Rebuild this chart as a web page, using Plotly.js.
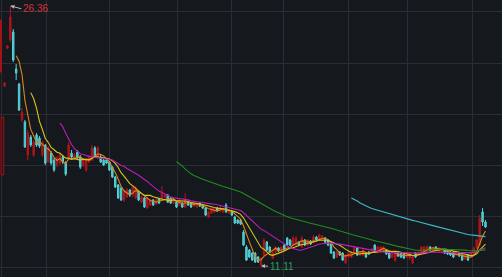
<!DOCTYPE html>
<html><head><meta charset="utf-8">
<script src="https://cdn.plot.ly/plotly-3.0.1.min.js"></script>
<style>html,body{margin:0;padding:0;background:#15181d;overflow:hidden}#c{width:502px;height:277px}</style>
</head><body><div id="c"></div>
<script>
const open = [21.66,23.89,24.36,24.82,22.66,21.78,19.67,19.55,17.62,18.67,
17.62,18.79,18.61,17.62,18.20,17.21,17.73,17.32,17.03,17.15,
17.50,17.15,17.44,17.73,17.44,17.79,17.50,17.03,16.74,17.21,
17.32,18.03,17.44,17.50,17.32,17.32,17.21,16.91,16.33,15.86,
15.68,14.98,15.16,15.57,15.27,15.10,15.45,14.86,15.10,14.51,
14.69,14.98,14.75,15.04,15.10,15.16,15.27,15.10,14.80,14.86,
14.69,14.80,14.57,14.86,14.80,14.63,14.57,14.80,14.69,14.51,
13.98,14.22,14.28,14.51,14.34,14.28,14.69,14.22,14.28,13.98,
13.81,13.81,13.10,12.23,12.05,11.87,11.87,11.64,11.17,11.76,
12.52,12.23,11.58,11.93,12.17,11.99,12.34,12.75,12.64,12.34,
12.34,12.52,12.23,12.64,12.34,12.58,12.52,12.81,12.64,12.69,
12.75,12.64,12.46,11.93,11.64,11.93,11.87,11.29,11.64,11.64,
11.93,12.17,11.76,11.76,11.87,11.93,11.93,12.34,11.93,11.93,
12.05,12.05,11.87,11.64,11.46,11.87,11.87,11.82,11.64,11.58,
11.29,11.87,11.76,11.87,11.93,11.93,12.23,11.99,12.23,11.93,
11.93,12.05,11.99,11.93,11.93,11.76,11.87,11.76,11.52,11.76,
11.70,11.87,12.17,12.34,14.28,13.69];
const high = [21.89,24.06,26.36,25.00,22.95,21.84,20.37,19.67,19.08,18.79,
18.50,18.91,18.73,18.44,18.26,18.14,17.85,17.44,17.56,17.79,
17.62,17.27,18.38,17.91,17.73,17.91,17.62,17.44,17.44,17.62,
18.20,18.14,18.14,17.62,17.38,17.38,17.27,16.97,16.39,15.92,
15.74,15.57,15.68,15.62,15.86,15.80,15.51,15.27,15.16,15.21,
15.04,15.04,15.10,15.10,15.80,15.39,15.33,15.16,15.04,14.92,
15.04,14.86,15.39,14.92,14.86,14.86,14.86,14.86,14.75,14.57,
14.34,14.57,14.57,14.57,14.63,14.51,14.80,14.45,14.34,14.04,
13.87,13.87,13.22,12.34,12.11,11.93,11.93,11.70,11.64,12.75,
12.58,12.28,12.05,12.28,12.23,12.28,12.40,12.81,12.69,12.87,
12.87,12.58,12.87,12.69,12.69,12.64,12.93,12.87,12.99,12.93,
12.81,12.69,12.52,11.99,11.99,11.99,11.93,11.82,11.93,11.99,
12.28,12.23,11.99,12.11,11.93,11.99,12.17,12.40,12.28,12.28,
12.28,12.11,11.93,11.93,11.93,11.93,11.93,11.87,11.93,11.93,
11.76,11.93,11.99,12.28,12.28,12.34,12.28,12.23,12.28,12.23,
12.17,12.11,12.05,11.99,11.99,11.99,11.93,11.82,11.76,11.82,
11.93,12.23,12.69,14.10,14.51,13.81];
const low = [21.60,23.83,24.24,23.07,22.01,20.20,19.55,18.03,17.32,18.09,
17.50,18.09,18.03,17.50,17.03,17.15,17.03,16.62,16.91,17.03,
17.09,16.39,17.32,17.38,17.32,17.32,16.80,16.91,16.62,17.15,
17.27,17.44,17.38,17.15,16.97,17.09,16.68,16.27,15.68,15.04,
14.92,14.86,15.10,15.16,15.16,15.04,14.92,14.80,14.51,14.45,
14.63,14.63,14.69,14.75,15.04,15.10,14.80,14.75,14.75,14.51,
14.63,14.51,14.51,14.63,14.51,14.57,14.51,14.57,14.45,14.04,
13.93,14.16,14.22,14.28,14.28,14.22,14.22,14.16,14.04,13.57,
13.57,13.52,12.28,11.41,11.58,11.41,11.29,11.29,11.11,11.70,
11.99,11.87,11.52,11.87,11.93,11.93,11.99,12.28,12.28,12.28,
12.28,12.28,12.17,12.28,12.28,12.34,12.46,12.58,12.58,12.64,
12.46,12.28,11.82,11.52,11.58,11.70,11.41,11.23,11.58,11.58,
11.87,11.70,11.70,11.70,11.58,11.76,11.87,11.87,11.87,11.87,
11.99,11.76,11.52,11.58,11.35,11.64,11.58,11.52,11.58,11.46,
11.23,11.58,11.70,11.82,11.87,11.87,11.99,11.93,11.99,11.87,
11.87,11.82,11.76,11.70,11.58,11.70,11.64,11.41,11.46,11.41,
11.64,11.82,12.11,12.28,13.46,13.34];
const close = [21.84,24.00,25.70,23.18,22.42,20.25,20.14,18.09,18.91,18.20,
18.38,18.20,18.14,18.38,17.15,18.03,17.15,16.74,17.44,17.62,
17.21,16.50,18.20,17.50,17.62,17.44,16.91,17.32,17.32,17.50,
18.03,17.50,18.03,17.21,17.03,17.15,16.74,16.33,15.74,15.10,
14.98,15.45,15.57,15.27,15.74,15.68,14.98,15.16,14.57,15.10,
14.98,14.69,14.98,14.80,15.39,15.27,14.86,14.80,14.98,14.57,
14.98,14.57,14.98,14.69,14.57,14.80,14.80,14.63,14.51,14.10,
14.28,14.51,14.51,14.34,14.51,14.45,14.28,14.39,14.10,13.63,
13.63,13.57,12.34,11.46,11.64,11.46,11.35,11.35,11.58,12.64,
12.05,11.93,11.93,12.23,11.99,12.23,12.05,12.34,12.34,12.75,
12.75,12.34,12.75,12.34,12.64,12.40,12.81,12.64,12.93,12.87,
12.52,12.34,11.87,11.58,11.93,11.76,11.46,11.76,11.87,11.93,
12.23,11.76,11.93,12.05,11.64,11.82,12.11,11.93,12.23,12.23,
12.23,11.82,11.58,11.87,11.87,11.70,11.64,11.58,11.87,11.87,
11.64,11.64,11.93,12.23,12.23,12.23,12.05,12.17,12.05,12.17,
12.11,11.87,11.82,11.76,11.64,11.93,11.70,11.46,11.70,11.46,
11.87,12.17,12.64,13.93,13.69,13.40];
const maPeriods = [5, 10, 20, 60, 120];
const maColors = ['#dc841e', '#d6c61a', '#b81fb8', '#1f8c22', '#3db8c4'];
const edgeX = [-1.30, -0.72];
const edgeBase = [22.48, 16.45];
const edgeTop = [25.53, 19.84];
const highLabel = '26.36', lowLabel = '11.11';
const highIdx = 2, lowIdx = 88;

const idx = close.map((_, i) => i);
function ma(n) {
  return close.map((_, i) => {
    if (i < n - 1) return null;
    let s = 0;
    for (let k = i - n + 1; k <= i; k++) s += close[k];
    return s / n;
  });
}
const traces = [];
traces.push({
  type: 'bar', x: edgeX, base: edgeBase, y: edgeTop.map((t, i) => t - edgeBase[i]),
  width: [0.5, 0.9],
  marker: {color: ['#a3141b', '#2a1216'], line: {color: '#a3141b', width: 1}},
  hoverinfo: 'skip'
});
traces.push({
  type: 'candlestick', x: idx, open: open, high: high, low: low, close: close,
  increasing: {line: {color: '#b0161d', width: 1}, fillcolor: '#a3141b'},
  decreasing: {line: {color: '#55d3d9', width: 1}, fillcolor: '#3ec2ca'},
  whiskerwidth: 0, hoverinfo: 'skip'
});
maPeriods.forEach((n, k) => {
  traces.push({type: 'scatter', mode: 'lines', x: idx, y: ma(n),
    line: {color: maColors[k], width: 1.1}, hoverinfo: 'skip'});
});
const grid = '#2a2d34';
const layout = {
  width: 502, height: 277,
  margin: {l: 0, r: 0, t: 0, b: 0},
  paper_bgcolor: '#15181d', plot_bgcolor: '#15181d',
  showlegend: false, boxgap: 0.3,
  xaxis: {range: [-1.544, 170.67], tickvals: [-1.03, 14.24, 35.86, 59.18, 78.04, 95.88, 118.18, 138.08, 160.38],
    showticklabels: false, ticks: '', gridcolor: grid, gridwidth: 1, zeroline: false,
    rangeslider: {visible: false}, fixedrange: true},
  yaxis: {range: [10.47, 26.70], tickvals: [11, 14, 17, 20, 23, 26], showticklabels: false, ticks: '',
    gridcolor: grid, gridwidth: 1, zeroline: false, fixedrange: true},
  annotations: [
    {x: highIdx, y: high[highIdx], text: highLabel, showarrow: true, ax: 11, ay: 3, xanchor: 'left', yanchor: 'middle',
      font: {family: 'Liberation Sans, Arial, sans-serif', size: 10, color: '#d5343d'},
      arrowcolor: '#b5b5b5', arrowhead: 2, arrowsize: 0.8, arrowwidth: 1, standoff: 0},
    {x: lowIdx, y: low[lowIdx], text: lowLabel, showarrow: true, ax: 7, ay: 0, xanchor: 'left', yanchor: 'middle',
      font: {family: 'Liberation Sans, Arial, sans-serif', size: 10, color: '#2f9e5a'},
      arrowcolor: '#b5b5b5', arrowhead: 2, arrowsize: 0.8, arrowwidth: 1, standoff: 0}
  ]
};
Plotly.newPlot('c', traces, layout, {displayModeBar: false, staticPlot: true});
</script></body></html>
